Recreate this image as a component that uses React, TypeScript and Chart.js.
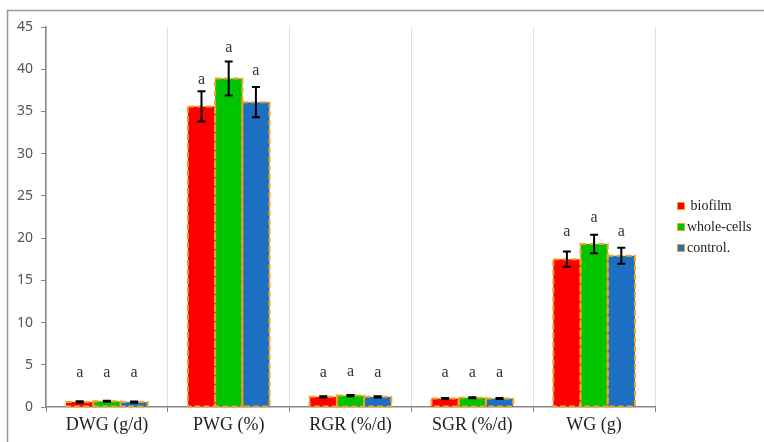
import React, { useEffect, useRef } from "react";
import { Chart, registerables } from "chart.js";

Chart.register(...registerables);

const categories = ["DWG (g/d)", "PWG (%)", "RGR (%/d)", "SGR (%/d)", "WG (g)"];
const seriesNames = [" biofilm", "whole-cells", "control."];
const seriesColors = ["#fe0000", "#00c400", "#1c6fc1"];

const biofilm = [0.6, 35.6, 1.2, 1.0, 17.5];
const wholeCells = [0.68, 38.9, 1.35, 1.1, 19.3];
const control = [0.58, 36.1, 1.2, 1.0, 17.9];

const biofilmErr = [0.07, 1.8, 0.08, 0.06, 0.9];
const wholeCellsErr = [0.07, 2.0, 0.07, 0.06, 1.1];
const controlErr = [0.07, 1.8, 0.08, 0.06, 0.95];

const letters = ["a", "a", "a", "a", "a"];
const biofilmLetterAt = [4.0, 38.7, 4.0, 4.0, 20.8];
const wholeCellsLetterAt = [4.0, 42.5, 4.2, 4.0, 22.4];
const controlLetterAt = [4.0, 39.8, 4.0, 4.0, 20.8];

const yTicks = [0, 5, 10, 15, 20, 25, 30, 35, 40, 45];

const errs = [biofilmErr, wholeCellsErr, controlErr];
const letterAt = [biofilmLetterAt, wholeCellsLetterAt, controlLetterAt];

const decorPlugin = {
  id: "decor",
  afterDatasetsDraw(chart: any) {
    const ctx = chart.ctx;
    const y = chart.scales.y;
    ctx.save();
    chart.data.datasets.forEach((ds: any, di: number) => {
      const meta = chart.getDatasetMeta(di);
      meta.data.forEach((bar: any, i: number) => {
        const left = bar.x - bar.width / 2;
        const top = bar.y;
        const h = bar.base - bar.y;
        ctx.setLineDash([6, 3]);
        ctx.lineWidth = 2;
        ctx.strokeStyle = "#f4a21e";
        ctx.strokeRect(left, top, bar.width, h);
        ctx.setLineDash([]);
        const v = ds.data[i];
        const e = errs[di][i];
        const yt = y.getPixelForValue(v + e);
        const yb = y.getPixelForValue(v - e);
        ctx.strokeStyle = "#000";
        ctx.lineWidth = 2;
        ctx.beginPath();
        ctx.moveTo(bar.x, yt);
        ctx.lineTo(bar.x, yb);
        ctx.moveTo(bar.x - 4, yt);
        ctx.lineTo(bar.x + 4, yt);
        ctx.moveTo(bar.x - 4, yb);
        ctx.lineTo(bar.x + 4, yb);
        ctx.stroke();
        ctx.fillStyle = "#333";
        ctx.font = "16px 'Liberation Serif', serif";
        ctx.textAlign = "center";
        ctx.textBaseline = "middle";
        ctx.fillText(letters[i], bar.x, y.getPixelForValue(letterAt[di][i]));
      });
    });
    const lx = 677;
    const ly = [206, 227, 248];
    chart.data.datasets.forEach((ds: any, di: number) => {
      ctx.fillStyle = ds.backgroundColor;
      ctx.fillRect(lx, ly[di] - 4, 8, 8);
      ctx.strokeStyle = "#f4a21e";
      ctx.lineWidth = 1;
      ctx.strokeRect(lx + 0.5, ly[di] - 3.5, 7, 7);
      ctx.fillStyle = "#222";
      ctx.font = "14px 'Liberation Serif', serif";
      ctx.textAlign = "left";
      ctx.textBaseline = "middle";
      ctx.fillText(ds.label, lx + 10, ly[di]);
    });
    ctx.strokeStyle = "#999";
    ctx.lineWidth = 1.5;
    ctx.beginPath();
    ctx.moveTo(7.5, 442);
    ctx.lineTo(7.5, 10.5);
    ctx.lineTo(764, 10.5);
    ctx.stroke();
    ctx.restore();
  },
};

export default function App() {
  const ref = useRef<HTMLCanvasElement>(null);
  useEffect(() => {
    document.body.style.margin = "0";
    const data = [biofilm, wholeCells, control];
    const chart = new Chart(ref.current!, {
      type: "bar",
      data: {
        labels: categories,
        datasets: data.map((d, i) => ({
          label: seriesNames[i],
          data: d,
          backgroundColor: seriesColors[i],
          borderWidth: 0,
          categoryPercentage: 0.67,
          barPercentage: 1.0,
        })),
      },
      options: {
        animation: false,
        responsive: false,
        events: [],
        layout: { padding: { left: 0, right: 109, top: 27, bottom: 0 } },
        plugins: { legend: { display: false }, tooltip: { enabled: false } },
        scales: {
          x: {
            grid: {
              offset: true,
              color: "#e0e0e0",
              tickColor: "#888",
              tickLength: 5,
            },
            border: { color: "#888", width: 1.5 },
            ticks: {
              color: "#222",
              font: { family: "'Liberation Serif', serif", size: 18 },
              padding: 2,
            },
            afterFit(scale: any) {
              scale.height = 35;
            },
          },
          y: {
            min: 0,
            max: 45,
            afterBuildTicks(scale: any) {
              scale.ticks = yTicks.map((v) => ({ value: v }));
            },
            grid: {
              drawOnChartArea: false,
              tickColor: "#888",
              tickLength: 5,
            },
            border: { color: "#888", width: 1.5 },
            ticks: {
              color: "#555",
              font: { family: "'Noto Sans', sans-serif", size: 14 },
              padding: 8,
            },
            afterFit(scale: any) {
              scale.width = 46;
            },
          },
        },
      },
      plugins: [decorPlugin],
    });
    return () => chart.destroy();
  }, []);
  return (
    <div style={{ width: 764, height: 442, background: "#fff" }}>
      <canvas ref={ref} width={764} height={442} />
    </div>
  );
}
